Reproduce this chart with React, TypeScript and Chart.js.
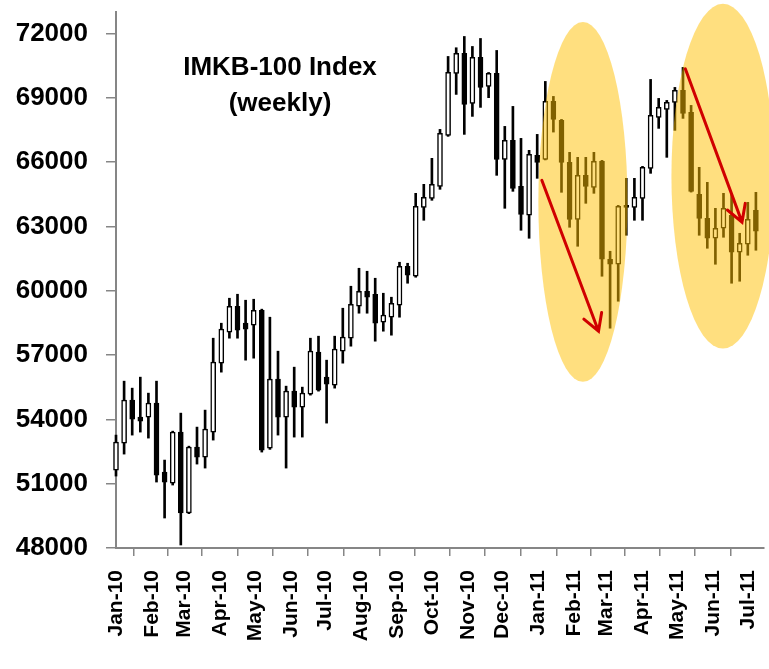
import React, { useEffect, useRef } from "react";
import { Chart, registerables } from "chart.js";

Chart.register(...registerables);

// ---- Data (weekly candles, first week ending 2010-01-01, one candle every 7 days) ----
const firstWeek = "2010-01-01";
const open = [
  51635, 52893, 54897, 54105, 54105, 54757, 51542, 51029, 53406, 49631,
  52707, 52241, 53406, 56621, 58065, 59277, 58485, 58392, 59091, 52660,
  55875, 54105, 55316, 54571, 55176, 57134, 55969, 55596, 57180, 57786,
  59277, 59976, 59836, 58532, 58765, 59324, 61141, 60675, 63891, 64310,
  64869, 67246, 70135, 71067, 68737, 70880, 69529, 70135, 66127, 67013,
  64869, 63518, 66314, 66127, 68830, 67945, 65988, 63331, 65382, 64822,
  66034, 61467, 61234, 63984, 63891, 64310, 65708, 68085, 68457, 68784,
  69343, 68318, 64496, 63378, 62446, 62912, 63518, 61794, 62166, 63751,
];
const high = [
  53266, 55782, 55456, 55969, 55223, 55782, 52101, 53450, 54291, 52750,
  53639, 54431, 57786, 58485, 59650, 59836, 59557, 59603, 59140, 58765,
  57180, 55549, 56435, 55503, 57786, 57879, 56761, 57879, 59184, 60209,
  61048, 60908, 60582, 59883, 59697, 61328, 61281, 64543, 64962, 66174,
  67525, 70927, 71333, 71859, 71393, 71766, 70180, 71207, 67665, 68597,
  67106, 66547, 67292, 69762, 69063, 67990, 66454, 66221, 66221, 66454,
  66080, 61840, 63980, 65242, 65242, 65800, 69856, 68970, 68877, 69483,
  70415, 68644, 65755, 65056, 63844, 64543, 64543, 62679, 64124, 64589,
];
const low = [
  51355, 52380, 53266, 53406, 53126, 51076, 49398, 50936, 48140, 49600,
  51914, 51728, 53033, 56202, 57786, 57786, 56761, 56854, 52474, 52600,
  53266, 51728, 53173, 53173, 55130, 55316, 53825, 55456, 56621, 57413,
  58951, 58951, 57646, 58112, 57926, 58765, 60349, 60629, 63285, 64217,
  64729, 67200, 69156, 67292, 68131, 68551, 69003, 65382, 63844, 64636,
  62819, 62446, 65242, 66100, 67399, 64590, 62959, 62073, 64077, 64543,
  60675, 58252, 59510, 62586, 63285, 63285, 65475, 67572, 66221, 67479,
  68038, 64600, 62586, 61980, 61234, 62493, 60349, 60442, 61654, 61887,
];
const close = [
  52940, 54897, 54011, 53918, 54757, 51402, 51076, 53406, 49631, 52707,
  52241, 53545, 56668, 58205, 59277, 58159, 58205, 59091, 52567, 55875,
  54105, 55316, 54571, 55223, 57180, 55363, 55642, 57273, 57833, 59370,
  59976, 59697, 58485, 58858, 59417, 61141, 60722, 63937, 64357, 64962,
  67339, 70182, 71067, 68690, 70880, 69482, 70135, 66127, 67013, 64776,
  63564, 66360, 65988, 68830, 67991, 65988, 63331, 65382, 64869, 66034,
  61467, 61234, 63937, 63891, 64357, 65755, 68178, 68551, 68784, 69343,
  68271, 64636, 63378, 62446, 62912, 63844, 61794, 62213, 63331, 62772,
];

const monthLabels = [
  "Jan-10", "Feb-10", "Mar-10", "Apr-10", "May-10", "Jun-10", "Jul-10", "Aug-10", "Sep-10",
  "Oct-10", "Nov-10", "Dec-10", "Jan-11", "Feb-11", "Mar-11", "Apr-11", "May-11", "Jun-11", "Jul-11",
];
const yTickValues = [48000, 51000, 54000, 57000, 60000, 63000, 66000, 69000, 72000];
const titleLines = ["IMKB-100 Index", "(weekly)"];

// annotations in data units (day since 2010-01-01, index value)
const ellipses = [
  { x0: 365, x1: 442, yTop: 72530, yBottom: 55750 },
  { x0: 480, x1: 569, yTop: 73380, yBottom: 57300 },
];
const arrows = [
  { x0: 368, y0: 65150, x1: 417, y1: 58110 },
  { x0: 492, y0: 70350, x1: 541, y1: 63200 },
];

const DAY = 86400000;
const monthIdx: Record<string, number> = {
  Jan: 0, Feb: 1, Mar: 2, Apr: 3, May: 4, Jun: 5, Jul: 6, Aug: 7, Sep: 8, Oct: 9, Nov: 10, Dec: 11,
};
const base = Date.parse(firstWeek + "T00:00:00Z");
const monthDays = monthLabels.map((l) => {
  const [m, y] = l.split("-");
  return Math.round((Date.UTC(2000 + Number(y), monthIdx[m], 1) - base) / DAY);
});
const weekDays = open.map((_, i) => i * 7);

const annotationPlugin = {
  id: "annot",
  afterDatasetsDraw(chart: any) {
    const { ctx, scales } = chart;
    const xs = scales.x;
    const ys = scales.y;
    ctx.save();
    ctx.fillStyle = "rgba(255,192,0,0.5)";
    for (const e of ellipses) {
      const l = xs.getPixelForValue(e.x0);
      const r = xs.getPixelForValue(e.x1);
      const t = ys.getPixelForValue(e.yTop);
      const b = ys.getPixelForValue(e.yBottom);
      ctx.beginPath();
      ctx.ellipse((l + r) / 2, (t + b) / 2, (r - l) / 2, (b - t) / 2, 0, 0, Math.PI * 2);
      ctx.fill();
    }
    ctx.strokeStyle = "#D00000";
    ctx.lineWidth = 3;
    ctx.lineCap = "round";
    for (const a of arrows) {
      const x0 = xs.getPixelForValue(a.x0);
      const y0 = ys.getPixelForValue(a.y0);
      const x1 = xs.getPixelForValue(a.x1);
      const y1 = ys.getPixelForValue(a.y1);
      const ang = Math.atan2(y1 - y0, x1 - x0);
      const hl = 19;
      const ha = (30 * Math.PI) / 180;
      ctx.beginPath();
      ctx.moveTo(x0, y0);
      ctx.lineTo(x1, y1);
      ctx.moveTo(x1 - hl * Math.cos(ang - ha), y1 - hl * Math.sin(ang - ha));
      ctx.lineTo(x1, y1);
      ctx.lineTo(x1 - hl * Math.cos(ang + ha), y1 - hl * Math.sin(ang + ha));
      ctx.stroke();
    }
    ctx.restore();
  },
  afterDraw(chart: any) {
    const { ctx, chartArea } = chart;
    ctx.save();
    ctx.fillStyle = "#000";
    ctx.font = "bold 26px 'Liberation Sans', Arial, sans-serif";
    ctx.textAlign = "center";
    ctx.textBaseline = "alphabetic";
    const cx = chartArea.left + 164;
    ctx.fillText(titleLines[0], cx, 75);
    ctx.fillText(titleLines[1], cx, 111);
    ctx.restore();
  },
};

export default function App() {
  const ref = useRef<HTMLCanvasElement>(null);
  useEffect(() => {
    if (!ref.current) return;
    const bodies = weekDays.map((d, i) => ({ x: d, y: [open[i], close[i]] }));
    const wicks = weekDays.map((d, i) => ({ x: d, y: [low[i], high[i]] }));
    const chart = new Chart(ref.current, {
      type: "bar",
      data: {
        datasets: [
          {
            label: "body",
            data: bodies as any,
            backgroundColor: (c: any) => (close[c.dataIndex] >= open[c.dataIndex] ? "#ffffff" : "#000000"),
            borderColor: "#000000",
            borderWidth: 1.5,
            borderSkipped: false,
            barThickness: 5,
            grouped: false,
            order: 0,
            clip: false as any,
          },
          {
            label: "wick",
            data: wicks as any,
            backgroundColor: "#000000",
            borderWidth: 0,
            barThickness: 2,
            grouped: false,
            order: 1,
            clip: false as any,
          },
        ],
      },
      options: {
        animation: false,
        responsive: false,
        devicePixelRatio: 1,
        layout: { padding: { top: 12, right: 5, left: 0, bottom: 0 } },
        plugins: { legend: { display: false }, tooltip: { enabled: false } },
        scales: {
          x: {
            type: "linear",
            min: 0,
            max: 560,
            offset: false,
            afterBuildTicks: (s: any) => {
              s.ticks = monthDays.map((v) => ({ value: v }));
            },
            afterFit: (s: any) => {
              s.height = 121;
              s.paddingLeft = 0;
              s.paddingRight = 0;
            },
            ticks: {
              autoSkip: false,
              minRotation: 90,
              maxRotation: 90,
              padding: 14,
              color: "#000",
              font: { family: "'Liberation Sans', Arial, sans-serif", size: 21, weight: "bold" },
              callback: (_v: any, i: number) => monthLabels[i],
            },
            grid: { drawOnChartArea: false, drawTicks: true, tickLength: 8, color: "#868686", lineWidth: 1.5 },
            border: { display: true, color: "#868686", width: 2 },
          },
          y: {
            min: 48000,
            max: 73000,
            afterBuildTicks: (s: any) => {
              s.ticks = yTickValues.map((v) => ({ value: v }));
            },
            afterFit: (s: any) => {
              s.width = 116;
              s.paddingTop = 0;
              s.paddingBottom = 0;
            },
            ticks: {
              padding: 18,
              color: "#000",
              font: { family: "'Liberation Sans', Arial, sans-serif", size: 26, weight: "bold" },
              callback: (v: any) => String(v),
            },
            grid: { drawOnChartArea: false, drawTicks: true, tickLength: 10, color: "#868686", lineWidth: 1.5 },
            border: { display: true, color: "#868686", width: 2 },
          },
        },
      },
      plugins: [annotationPlugin],
    });
    return () => chart.destroy();
  }, []);
  return (
    <div style={{ position: "absolute", left: 0, top: 0, width: 769, height: 669, background: "#fff" }}>
      <canvas ref={ref} width={769} height={669} style={{ width: 769, height: 669, display: "block" }} />
    </div>
  );
}
